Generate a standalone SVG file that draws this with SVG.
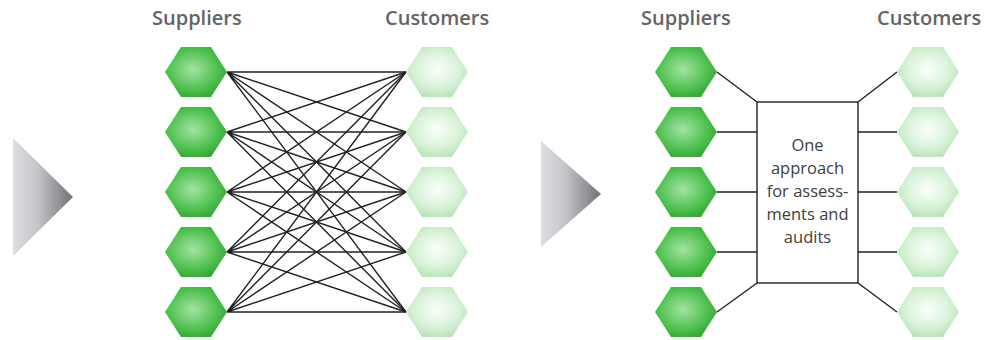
<svg xmlns="http://www.w3.org/2000/svg" width="984" height="340" viewBox="0 0 984 340">
<defs>
<radialGradient id="gDark" cx="0.45" cy="0.45" r="0.6">
<stop offset="0" stop-color="#a4e2a4"/>
<stop offset="0.6" stop-color="#56c456"/>
<stop offset="1" stop-color="#2fa82f"/>
</radialGradient>
<radialGradient id="gLight" cx="0.5" cy="0.45" r="0.6">
<stop offset="0" stop-color="#fbfffb"/>
<stop offset="0.6" stop-color="#d8f2d8"/>
<stop offset="1" stop-color="#b4e2b4"/>
</radialGradient>
<linearGradient id="gTri" x1="0" y1="0" x2="1" y2="0">
<stop offset="0" stop-color="#dcdde0"/>
<stop offset="0.4" stop-color="#c4c6ca"/>
<stop offset="1" stop-color="#707276"/>
</linearGradient>
<polygon id="hex" points="-31,0 -15,-25 15,-25 31,0 15,25 -15,25"/>
</defs>
<style>
.hd{fill:url(#gDark)}
.hl{fill:url(#gLight)}
.title{font-family:"Open Sans","Noto Sans",sans-serif;font-size:20px;font-weight:600;fill:#636466}
.box{font-family:"Open Sans","Noto Sans",sans-serif;font-size:16.5px;fill:#404040;text-anchor:middle}
.ln{stroke:#222222;stroke-width:1.4;fill:none}
</style>

<polygon id="arrow1" points="13,138 73,197 13,256" fill="url(#gTri)"/>
<polygon id="arrow2" points="541,141 601,194 541,247" fill="url(#gTri)"/>

<text class="title" x="152" y="25">Suppliers</text>
<text class="title" x="385" y="25">Customers</text>
<text class="title" x="641" y="25">Suppliers</text>
<text class="title" x="877" y="25">Customers</text>

<g id="connectors">
<g class="ln">
<path d="M227,72 L406,72 M227,72 L406,132 M227,72 L406,192 M227,72 L406,252 M227,72 L406,312"/>
<path d="M227,132 L406,72 M227,132 L406,132 M227,132 L406,192 M227,132 L406,252 M227,132 L406,312"/>
<path d="M227,192 L406,72 M227,192 L406,132 M227,192 L406,192 M227,192 L406,252 M227,192 L406,312"/>
<path d="M227,252 L406,72 M227,252 L406,132 M227,252 L406,192 M227,252 L406,252 M227,252 L406,312"/>
<path d="M227,312 L406,72 M227,312 L406,132 M227,312 L406,192 M227,312 L406,252 M227,312 L406,312"/>
<path d="M717,72 L757,102 M717,132 L757,132 M717,192 L757,192 M717,252 L757,252 M717,312 L757,283"/>
<path d="M858,102 L897,72 M858,132 L897,132 M858,192 L897,192 M858,252 L897,252 M858,283 L897,312"/>
</g>
</g>

<g id="suppliers-left">
<use href="#hex" class="hd" x="196" y="72"/>
<use href="#hex" class="hd" x="196" y="132"/>
<use href="#hex" class="hd" x="196" y="192"/>
<use href="#hex" class="hd" x="196" y="252"/>
<use href="#hex" class="hd" x="196" y="312"/>
</g>
<g id="customers-left">
<use href="#hex" class="hl" x="437" y="72"/>
<use href="#hex" class="hl" x="437" y="132"/>
<use href="#hex" class="hl" x="437" y="192"/>
<use href="#hex" class="hl" x="437" y="252"/>
<use href="#hex" class="hl" x="437" y="312"/>
</g>
<g id="suppliers-right">
<use href="#hex" class="hd" x="686" y="72"/>
<use href="#hex" class="hd" x="686" y="132"/>
<use href="#hex" class="hd" x="686" y="192"/>
<use href="#hex" class="hd" x="686" y="252"/>
<use href="#hex" class="hd" x="686" y="312"/>
</g>
<g id="customers-right">
<use href="#hex" class="hl" x="928" y="72"/>
<use href="#hex" class="hl" x="928" y="132"/>
<use href="#hex" class="hl" x="928" y="192"/>
<use href="#hex" class="hl" x="928" y="252"/>
<use href="#hex" class="hl" x="928" y="312"/>
</g>

<g id="hub">
<rect x="757" y="102" width="101" height="181" fill="#ffffff" stroke="#222222" stroke-width="1.4"/>
<text class="box" x="807.5" y="151">One</text>
<text class="box" x="807.5" y="174">approach</text>
<text class="box" x="807.5" y="197">for assess-</text>
<text class="box" x="807.5" y="220">ments and</text>
<text class="box" x="807.5" y="243">audits</text>
</g>
</svg>
